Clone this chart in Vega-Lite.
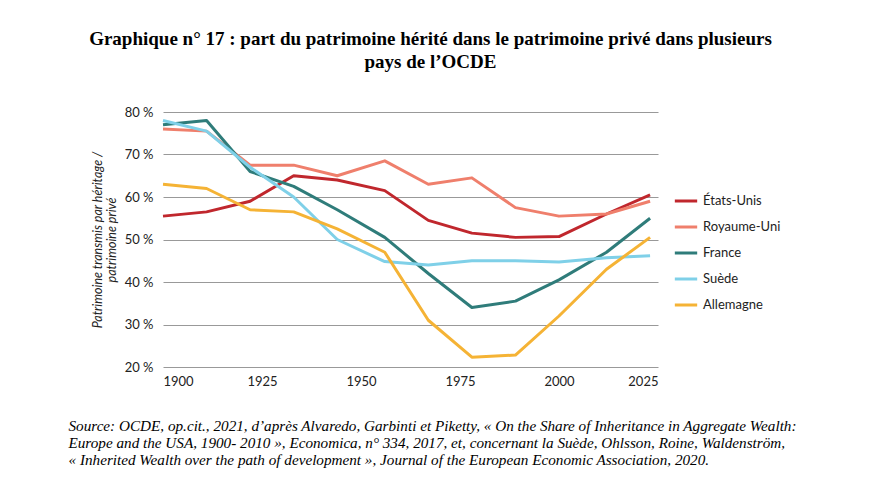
{
  "$schema": "https://vega.github.io/schema/vega-lite/v6.json",
  "width": 495,
  "height": 255,
  "padding": {"left": 68, "top": 30, "right": 10, "bottom": 5},
  "config": {
    "view": {"stroke": null},
    "font": "Lato"
  },
  "title": {
    "text": ["Graphique n° 17 : part du patrimoine hérité dans le patrimoine privé dans plusieurs", "pays de l’OCDE"],
    "font": "Liberation Serif",
    "fontSize": 19,
    "fontWeight": "bold",
    "color": "#000",
    "anchor": "middle",
    "offset": 34,
    "lineHeight": 23,
    "dx": 20
  },
  "data": {
    "values": [
      {"year": 1900, "pays": "États-Unis", "v": 55.5},
      {"year": 1911, "pays": "États-Unis", "v": 56.5},
      {"year": 1922, "pays": "États-Unis", "v": 59},
      {"year": 1933, "pays": "États-Unis", "v": 65},
      {"year": 1944, "pays": "États-Unis", "v": 64},
      {"year": 1956, "pays": "États-Unis", "v": 61.5},
      {"year": 1967, "pays": "États-Unis", "v": 54.5},
      {"year": 1978, "pays": "États-Unis", "v": 51.5},
      {"year": 1989, "pays": "États-Unis", "v": 50.5},
      {"year": 2000, "pays": "États-Unis", "v": 50.7},
      {"year": 2012, "pays": "États-Unis", "v": 56},
      {"year": 2023, "pays": "États-Unis", "v": 60.5},
      {"year": 1900, "pays": "Royaume-Uni", "v": 76},
      {"year": 1911, "pays": "Royaume-Uni", "v": 75.5},
      {"year": 1922, "pays": "Royaume-Uni", "v": 67.5},
      {"year": 1933, "pays": "Royaume-Uni", "v": 67.5},
      {"year": 1944, "pays": "Royaume-Uni", "v": 65},
      {"year": 1956, "pays": "Royaume-Uni", "v": 68.5},
      {"year": 1967, "pays": "Royaume-Uni", "v": 63},
      {"year": 1978, "pays": "Royaume-Uni", "v": 64.5},
      {"year": 1989, "pays": "Royaume-Uni", "v": 57.5},
      {"year": 2000, "pays": "Royaume-Uni", "v": 55.5},
      {"year": 2012, "pays": "Royaume-Uni", "v": 56},
      {"year": 2023, "pays": "Royaume-Uni", "v": 59},
      {"year": 1900, "pays": "France", "v": 77},
      {"year": 1911, "pays": "France", "v": 78},
      {"year": 1922, "pays": "France", "v": 66},
      {"year": 1933, "pays": "France", "v": 62.5},
      {"year": 1944, "pays": "France", "v": 57},
      {"year": 1956, "pays": "France", "v": 50.5},
      {"year": 1967, "pays": "France", "v": 42},
      {"year": 1978, "pays": "France", "v": 34},
      {"year": 1989, "pays": "France", "v": 35.5},
      {"year": 2000, "pays": "France", "v": 40.5},
      {"year": 2012, "pays": "France", "v": 47},
      {"year": 2023, "pays": "France", "v": 55},
      {"year": 1900, "pays": "Suède", "v": 78},
      {"year": 1911, "pays": "Suède", "v": 75.5},
      {"year": 1922, "pays": "Suède", "v": 67},
      {"year": 1933, "pays": "Suède", "v": 60},
      {"year": 1944, "pays": "Suède", "v": 50},
      {"year": 1956, "pays": "Suède", "v": 44.8},
      {"year": 1967, "pays": "Suède", "v": 44},
      {"year": 1978, "pays": "Suède", "v": 45},
      {"year": 1989, "pays": "Suède", "v": 45},
      {"year": 2000, "pays": "Suède", "v": 44.7},
      {"year": 2012, "pays": "Suède", "v": 45.7},
      {"year": 2023, "pays": "Suède", "v": 46.2},
      {"year": 1900, "pays": "Allemagne", "v": 63},
      {"year": 1911, "pays": "Allemagne", "v": 62},
      {"year": 1922, "pays": "Allemagne", "v": 57},
      {"year": 1933, "pays": "Allemagne", "v": 56.5},
      {"year": 1944, "pays": "Allemagne", "v": 52.5},
      {"year": 1956, "pays": "Allemagne", "v": 47},
      {"year": 1967, "pays": "Allemagne", "v": 31},
      {"year": 1978, "pays": "Allemagne", "v": 22.3},
      {"year": 1989, "pays": "Allemagne", "v": 22.8},
      {"year": 2000, "pays": "Allemagne", "v": 32},
      {"year": 2012, "pays": "Allemagne", "v": 43},
      {"year": 2023, "pays": "Allemagne", "v": 50.5}
    ]
  },
  "mark": {"type": "line", "strokeWidth": 3, "strokeJoin": "round"},
  "encoding": {
    "x": {
      "field": "year", "type": "quantitative",
      "scale": {"domain": [1900, 2025], "nice": false, "zero": false},
      "axis": {
        "values": [1900, 1925, 1950, 1975, 2000, 2025],
        "format": "d", "grid": false, "domain": false, "ticks": false,
        "labelFontSize": 13, "labelColor": "#222", "labelPadding": 8,
        "title": [
          "Source: OCDE, op.cit., 2021, d’après Alvaredo, Garbinti et Piketty, « On the Share of Inheritance in Aggregate Wealth:",
          "Europe and the USA, 1900- 2010 », Economica, n° 334, 2017, et, concernant la Suède, Ohlsson, Roine, Waldenström,",
          "« Inherited Wealth over the path of development », Journal of the European Economic Association, 2020."
        ],
        "titleFont": "Liberation Serif", "titleFontStyle": "italic", "titleFontWeight": "normal",
        "titleFontSize": 15.2, "titleColor": "#000", "titleLineHeight": 17,
        "titleAnchor": "start", "titleAlign": "left", "titleX": -95, "titlePadding": 30
      }
    },
    "y": {
      "field": "v", "type": "quantitative",
      "scale": {"domain": [20, 80], "nice": false, "zero": false},
      "axis": {
        "values": [20, 30, 40, 50, 60, 70, 80],
        "labelExpr": "datum.value + ' %'",
        "domain": false, "ticks": false, "gridColor": "#999", "gridWidth": 1,
        "labelFontSize": 13, "labelColor": "#222", "labelPadding": 10,
        "title": ["Patrimoine transmis par héritage /", "patrimoine privé"],
        "titleFontStyle": "italic", "titleFontWeight": "normal", "titleFontSize": 12.5,
        "titleColor": "#222", "titlePadding": 6, "titleLineHeight": 14
      }
    },
    "color": {
      "field": "pays", "type": "nominal",
      "scale": {
        "domain": ["États-Unis", "Royaume-Uni", "France", "Suède", "Allemagne"],
        "range": ["#c0272d", "#ef7f6c", "#2f7c7a", "#7fd0e8", "#f5b335"]
      },
      "legend": {
        "title": null, "orient": "none", "legendX": 510, "legendY": 76,
        "symbolType": "stroke", "symbolStrokeWidth": 3,
        "symbolSize": 500, "labelFontSize": 13, "labelColor": "#222", "rowPadding": 6,
        "padding": 0
      }
    }
  }
}
